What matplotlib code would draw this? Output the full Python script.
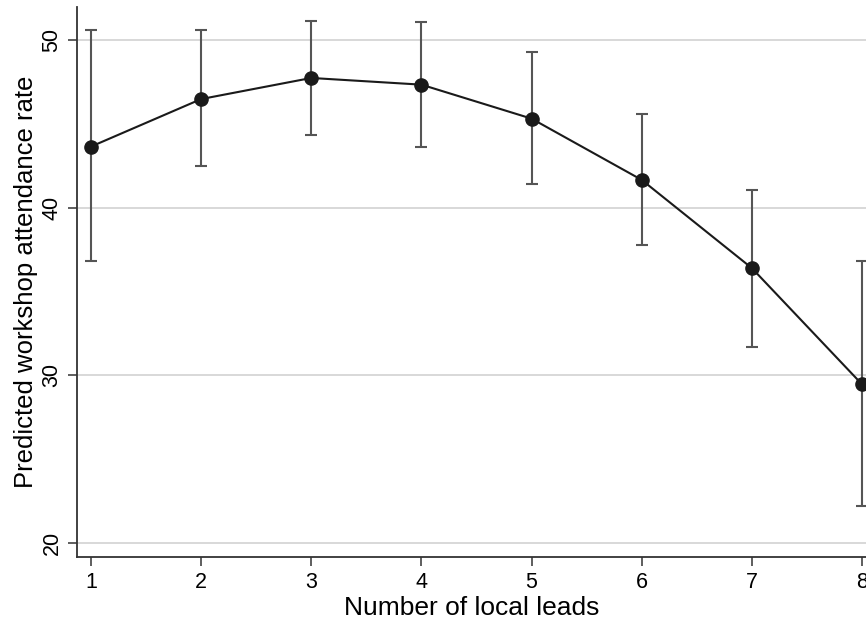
import numpy as np
import matplotlib
matplotlib.use("Agg")
import matplotlib.pyplot as plt

# predicted attendance by number of local leads, with 95% CI
n_leads = [1, 2, 3, 4, 5, 6, 7, 8]
predicted = [43.66, 46.5, 47.76, 47.36, 45.33, 41.67, 36.4, 29.46]
ci_low = [36.8, 42.48, 44.37, 43.64, 41.4, 37.76, 31.7, 22.2]
ci_high = [50.6, 50.6, 51.15, 51.1, 49.3, 45.6, 41.07, 36.8]
y_ticks = [20, 30, 40, 50]

plt.rcParams["font.family"] = ["Liberation Sans", "DejaVu Sans"]

fig = plt.figure(figsize=(8.66, 6.23), dpi=100)
ax = fig.add_axes([0.0889, 0.1055, 0.9111, 0.8833])

pred = np.array(predicted)
yerr = np.vstack([pred - np.array(ci_low), np.array(ci_high) - pred])

for y in y_ticks:
    ax.axhline(y, color='#d6d6d6', linewidth=1.3, zorder=0)

ax.errorbar(n_leads, pred, yerr=yerr, fmt='none', ecolor='#555555',
            elinewidth=1.5, capsize=4.2, capthick=1.5, zorder=2)
ax.plot(n_leads, pred, '-', color='#1a1a1a', linewidth=1.5, zorder=3)
ax.plot(n_leads, pred, 'o', color='#1a1a1a', markersize=9.5, zorder=4)

ax.set_xlim(0.873, 8.036)
ax.set_ylim(19.13, 52.0)
ax.set_xticks(n_leads)
ax.set_yticks(y_ticks)

ax.spines['top'].set_visible(False)
ax.spines['right'].set_visible(False)
ax.spines['left'].set_color('#333333')
ax.spines['bottom'].set_color('#333333')
ax.spines['left'].set_linewidth(1.3)
ax.spines['bottom'].set_linewidth(1.3)

ax.tick_params(axis='x', labelsize=15.5, length=6.5, width=1.1, color='#333333', pad=4)
ax.tick_params(axis='y', labelsize=15.5, length=6.5, width=1.1, color='#333333', pad=4)
for lbl in ax.get_yticklabels():
    lbl.set_rotation(90)
    lbl.set_va('center')

ax.set_xlabel('Number of local leads', fontsize=19)
ax.set_ylabel('Predicted workshop attendance rate', fontsize=18.5)
ax.xaxis.set_label_coords(0.5, -0.071)
ax.yaxis.set_label_coords(-0.05, 0.5)

fig.savefig('out.png', dpi=100)
